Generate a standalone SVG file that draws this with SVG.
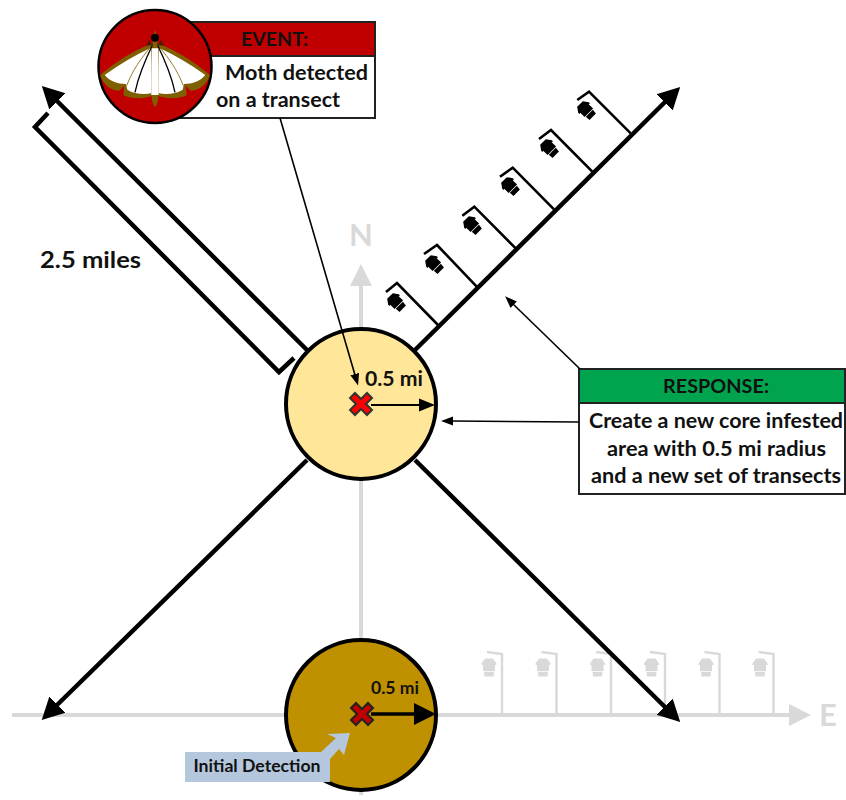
<svg xmlns="http://www.w3.org/2000/svg" width="846" height="800" viewBox="0 0 846 800">
<style>
text{font-family:"Lato","Open Sans","Liberation Sans",sans-serif;font-weight:700;fill:#111}
.k{fill:none;stroke:#000;stroke-width:4.5}
.t{fill:none;stroke:#000;stroke-width:1.6}
.g{fill:none;stroke:#d9d9d9;stroke-width:4}
.p{fill:none;stroke:#000;stroke-width:2.6;stroke-linejoin:miter}
.gp{fill:none;stroke:#d9d9d9;stroke-width:2.4}
.box{stroke:#222;stroke-width:2}
</style>
<defs>
<marker id="big" markerUnits="userSpaceOnUse" markerWidth="24" markerHeight="26" refX="2" refY="13" orient="auto"><path d="M0,1.5 L22,13 L0,24.5 z" fill="#000"/></marker>
<marker id="gray" markerUnits="userSpaceOnUse" markerWidth="24" markerHeight="26" refX="1" refY="13" orient="auto"><path d="M0,2 L22,13 L0,24 z" fill="#d9d9d9"/></marker>
<marker id="thin" markerUnits="userSpaceOnUse" markerWidth="14" markerHeight="12" refX="1" refY="6" orient="auto"><path d="M0,1.5 L12,6 L0,10.5 z" fill="#000"/></marker>
<marker id="mid" markerUnits="userSpaceOnUse" markerWidth="18" markerHeight="16" refX="1" refY="7" orient="auto"><path d="M0,0.5 L16,7 L0,13.5 z" fill="#000"/></marker>
<marker id="fat" markerUnits="userSpaceOnUse" markerWidth="24" markerHeight="24" refX="1" refY="12" orient="auto"><path d="M0,1 L22,12 L0,23 z" fill="#000"/></marker>
<g id="lamp"><path d="M-4,-8.500 H4 L7.500,-3.500 V-2 H-7.500 V-3.500 z"/><path d="M-6,-2.500 H6 V4 H-6 z"/><path d="M-5,4.700 H5 L4.500,9.500 H-4.500 z"/></g>
<path id="xm" d="M-6,-11 L0,-5 L6,-11 L11,-6 L5,0 L11,6 L6,11 L0,5 L-6,11 L-11,6 L-5,0 L-11,-6 z"/>
<g id="wing">
<path d="M165,86 Q85,118 12,180 C20,207 45,228 70,227 L85,212 L82,241 C110,254 140,252 168,242 L168,90 z" fill="#7f6000"/>
<path d="M165,98 Q90,133 26,180 C40,198 65,207 90,207 L94,224 C115,237 145,240 168,234 z" fill="#fff"/>
<path d="M165,95 C135,130 110,165 92,212" fill="none" stroke="#7f6000" stroke-width="2.500"/>
<path d="M172,85 C150,130 128,180 117,232" fill="none" stroke="#000" stroke-width="4"/>
</g>
</defs>

<g id="compass-axes">
<path class="g" d="M361,795 V285" marker-end="url(#gray)"/>
<path class="g" d="M12,715 H790" marker-end="url(#gray)"/>
<text x="361" y="246" font-size="31" text-anchor="middle" style="fill:#d9d9d9">N</text>
<text x="828" y="726" font-size="31" text-anchor="middle" style="fill:#d9d9d9">E</text>
</g>

<g id="gray-lamps" fill="#d9d9d9">
<path class="gp" d="M502,715 V654 L487,652 M556.500,715 V654 L541.500,652 M611,715 V654 L596,652 M665,715 V654 L650,652 M719.500,715 V654 L704.500,652 M773.500,715 V654 L758.500,652"/>
<use href="#lamp" x="489" y="667"/><use href="#lamp" x="543" y="667"/><use href="#lamp" x="597.500" y="667"/><use href="#lamp" x="651.500" y="667"/><use href="#lamp" x="706" y="667"/><use href="#lamp" x="760" y="667"/>
</g>

<g id="diagonals">
<path class="k" d="M415,350 L666,101" marker-end="url(#big)"/>
<path class="k" d="M307,350 L56,100" marker-end="url(#big)"/>
<path class="k" d="M307,460 L56,706" marker-end="url(#big)"/>
<path class="k" d="M415,460 L666,708" marker-end="url(#big)"/>
</g>

<g id="bracket"><path class="k" d="M48,113 L35,127 L279,372 L294,358"/></g>

<g id="black-lamps" fill="#000">
<path class="p" d="M438,325 L397,283 L386,292 M476.700,286.700 L437,245 L424,254 M515.700,248.300 L474.300,206.700 L462.300,215.700 M554,209.300 L512.700,167.700 L500,176.700 M592.300,171.700 L551,130 L539,139 M630.700,133.300 L589,91.700 L577.300,100"/>
<use href="#lamp" transform="translate(396,302) rotate(-45)"/>
<use href="#lamp" transform="translate(434,264) rotate(-45)"/>
<use href="#lamp" transform="translate(472,225) rotate(-45)"/>
<use href="#lamp" transform="translate(510,186) rotate(-45)"/>
<use href="#lamp" transform="translate(549,148) rotate(-45)"/>
<use href="#lamp" transform="translate(586,110) rotate(-45)"/>
</g>

<g id="core-area">
<circle cx="361" cy="404" r="75" fill="#ffe699" stroke="#000" stroke-width="4"/>
<path d="M371,405 H420" stroke="#000" stroke-width="2" fill="none" marker-end="url(#mid)"/>
<use href="#xm" transform="translate(361,404)" fill="#f00" stroke="#333" stroke-width="2"/>
<text x="365" y="386" font-size="20" textLength="58" lengthAdjust="spacingAndGlyphs">0.5 mi</text>
</g>

<g id="initial-area">
<circle cx="361" cy="715" r="75" fill="#bf9000" stroke="#000" stroke-width="4"/>
<path d="M371,714 H415" stroke="#000" stroke-width="3.500" fill="none" marker-end="url(#fat)"/>
<use href="#xm" transform="translate(362,714)" fill="#c00000" stroke="#222" stroke-width="2"/>
<text x="371" y="694" font-size="16.500" textLength="48" lengthAdjust="spacingAndGlyphs">0.5 mi</text>
</g>

<g id="initial-detection">
<path d="M185,752 H321 L336,738 L327,734 L350,733 L344,755 L339,749 L330,759 V782 H185 z" fill="#b4c7dc"/>
<text x="193.500" y="772" font-size="16.500" textLength="127" lengthAdjust="spacingAndGlyphs">Initial Detection</text>
</g>

<g id="event-box">
<rect class="box" x="180" y="22" width="195" height="34" fill="#c00000"/>
<rect class="box" x="180" y="56" width="195" height="62" fill="#fff"/>
<text x="241" y="46" font-size="19.500" textLength="67" lengthAdjust="spacingAndGlyphs">EVENT:</text>
<text x="225" y="80" font-size="21.500" textLength="143" lengthAdjust="spacingAndGlyphs">Moth detected</text>
<text x="216" y="107" font-size="21.500" textLength="124" lengthAdjust="spacingAndGlyphs">on a transect</text>
</g>

<g id="moth-icon">
<circle cx="155" cy="66.500" r="56.500" fill="#c00000" stroke="#000" stroke-width="2.500"/>
<g transform="translate(96,15) scale(.3333)">
<use href="#wing"/>
<use href="#wing" transform="translate(354,0) scale(-1,1)"/>
<path d="M177,46 L184,65 L188,240 C186,262 180,275 177,275 C174,275 168,262 166,240 L170,65 z" fill="#7f6000"/>
<path d="M167,100 H187 L188,240 H166 z" fill="#fff"/>
<path d="M150,92 L160,74 L167,90 z M204,92 L194,74 L187,90 z" fill="#4a1a00"/>
<circle cx="177" cy="68" r="12" fill="#000"/>
</g>
</g>

<g id="response-box">
<rect class="box" x="579" y="369" width="266" height="34" fill="#00a44f"/>
<rect class="box" x="579" y="403" width="266" height="91" fill="#fff"/>
<text x="663" y="393" font-size="19.500" textLength="106" lengthAdjust="spacingAndGlyphs">RESPONSE:</text>
<text x="589" y="428" font-size="21" textLength="254" lengthAdjust="spacingAndGlyphs">Create a new core infested</text>
<text x="607" y="456" font-size="21" textLength="219" lengthAdjust="spacingAndGlyphs">area with 0.5 mi radius</text>
<text x="591" y="483" font-size="21" textLength="250" lengthAdjust="spacingAndGlyphs">and a new set of transects</text>
</g>

<g id="connectors">
<path class="t" d="M280,118 L355,375" marker-end="url(#thin)"/>
<path class="t" d="M580,369 L513,304" marker-end="url(#thin)"/>
<path class="t" d="M579,422 L452,421" marker-end="url(#thin)"/>
</g>

<g id="distance-label"><text x="40" y="268" font-size="23.500" textLength="101" lengthAdjust="spacingAndGlyphs">2.5 miles</text></g>
</svg>
